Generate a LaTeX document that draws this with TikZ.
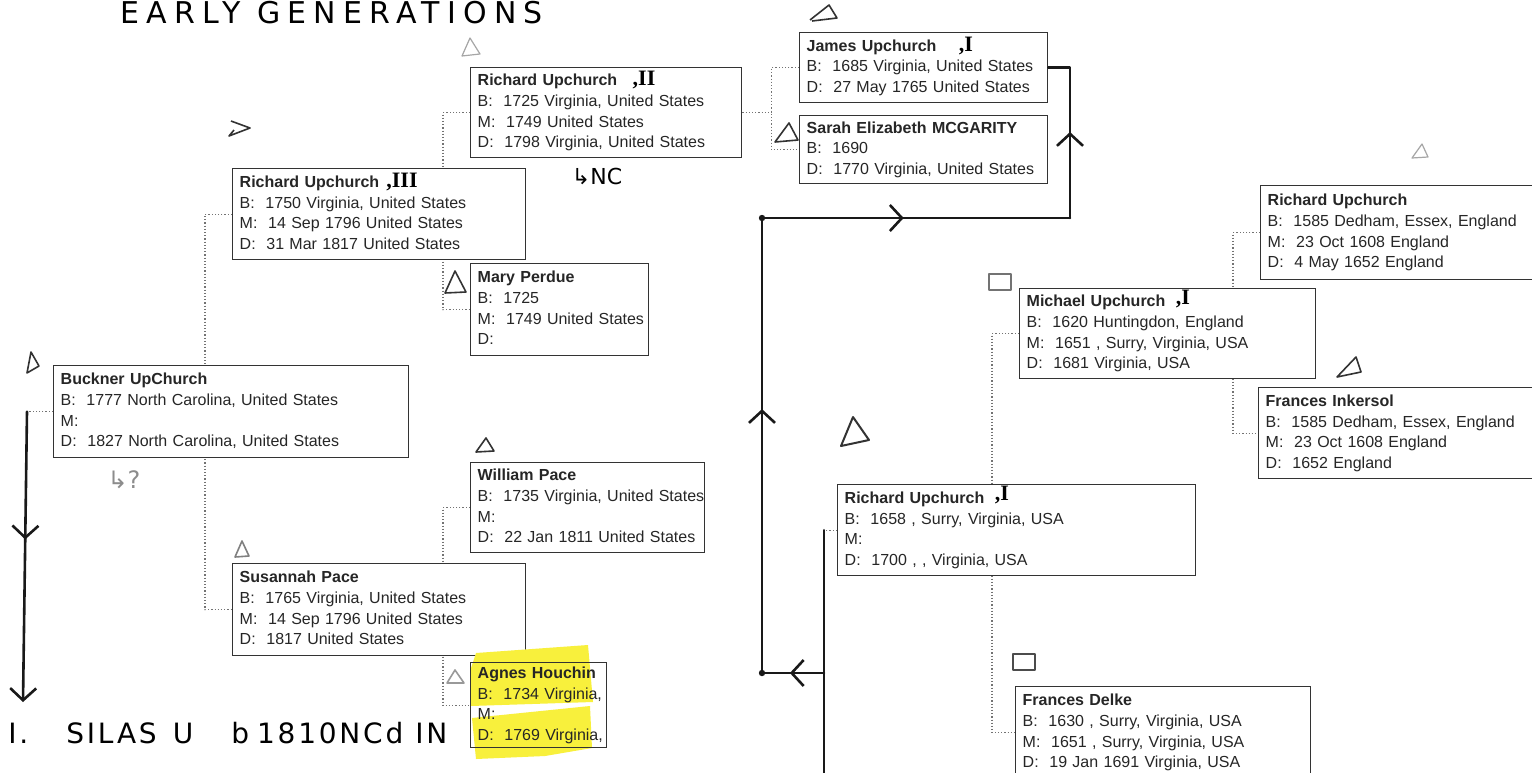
\documentclass[tikz,border=0pt]{standalone}
\usepackage{fontspec}
\setmainfont{Liberation Sans}
\newfontfamily\handfont{DejaVu Sans}
\newfontfamily\titlefont[LetterSpace=24]{DejaVu Sans}
\newfontfamily\notefont[LetterSpace=10]{DejaVu Sans}
\newfontfamily\romfont{Liberation Serif}
\usepackage{xcolor}
\usepackage{tikz}
\usetikzlibrary{positioning, arrows.meta, backgrounds, calc, decorations.markings}

\definecolor{hilite}{RGB}{248,240,60}

\newcommand{\pcard}[2]{\begin{tabular}{@{}l@{}}\textbf{#1}\\#2\end{tabular}}

\begin{document}
\begin{tikzpicture}[
    x=0.5pt, y=-0.5pt,
    person/.style 2 args={draw=black!80, fill=white, line width=0.7pt, anchor=north west,
                inner xsep=3.5pt, inner ysep=0pt, minimum width=#1*0.5pt,
                minimum height=#2*0.5pt, text width=#1*0.5pt-7pt, text=black!85,
                font=\fontsize{8}{10.3}\selectfont},
    link/.style={densely dotted, black!55, line width=0.6pt},
    hand/.style={line width=1.3pt, black!90, line cap=round, line join=round},
    midtip/.style={postaction={decorate, decoration={markings,
                mark=at position #1 with {\arrow{>}}}}},
    >={Straight Barb[length=6pt, width=13pt]},
    doodle/.style={line width=0.8pt, black!80, line join=round},
    faint/.style={doodle, black!35, line width=0.6pt},
    numeral/.style={inner sep=0pt, font=\romfont\fontsize{11}{11}\selectfont\bfseries},
    note/.style={inner sep=0pt, font=\handfont\fontsize{11}{11}\selectfont},
]
\useasboundingbox (0,0) rectangle (1532,772);

% --- Title ---
\node[inner sep=0pt, anchor=base west, font=\titlefont\fontsize{15}{15}\selectfont] (title)
    at (120,23) {EARLY GENERATIONS};

% --- Generation 1 ---
\node[person={355}{92}] (buckner) at (53,365)
    {\pcard{Buckner UpChurch}{B:~ 1777 North Carolina, United States\\M:\\D:~ 1827 North Carolina, United States}};

% --- Generation 2 ---
\node[person={293}{91}] (rich3) at (232,168)
    {\pcard{Richard Upchurch}{B:~ 1750 Virginia, United States\\M:~ 14 Sep 1796 United States\\D:~ 31 Mar 1817 United States}};
\node[person={293}{92}] (susan) at (232,563)
    {\pcard{Susannah Pace}{B:~ 1765 Virginia, United States\\M:~ 14 Sep 1796 United States\\D:~ 1817 United States}};

% --- Generation 3 ---
\node[person={271}{90}] (rich2) at (470,67)
    {\pcard{Richard Upchurch}{B:~ 1725 Virginia, United States\\M:~ 1749 United States\\D:~ 1798 Virginia, United States}};
\node[person={178}{92}] (mary) at (470,263)
    {\pcard{Mary Perdue}{B:~ 1725\\M:~ 1749 United States\\D:}};
\node[person={234}{90}] (william) at (470,462)
    {\pcard{William Pace}{B:~ 1735 Virginia, United States\\M:\\D:~ 22 Jan 1811 United States}};
\fill[hilite] (471,668) -- (476,653) -- (588,645) -- (593,702) -- (471,706) -- cycle;
\fill[hilite] (472,718) -- (590,706) -- (592,748) -- (545,756) -- (476,759) -- cycle;
\node[person={136}{85}, fill=none] (agnes) at (470,662)
    {\pcard{Agnes Houchin}{B:~ 1734 Virginia,\\M:\\D:~ 1769 Virginia,}};

% --- Generation 4 ---
\node[person={248}{70}] (james) at (799,32)
    {\pcard{James Upchurch}{B:~ 1685 Virginia, United States\\D:~ 27 May 1765 United States}};
\node[person={248}{68}] (sarah) at (799,115)
    {\pcard{Sarah Elizabeth MCGARITY}{B:~ 1690\\D:~ 1770 Virginia, United States}};

% --- Right branch ---
\node[person={358}{91}] (rich1) at (837,484)
    {\pcard{Richard Upchurch}{B:~ 1658 , Surry, Virginia, USA\\M:\\D:~ 1700 , , Virginia, USA}};
\node[person={296}{90}] (michael) at (1019,288)
    {\pcard{Michael Upchurch}{B:~ 1620 Huntingdon, England\\M:~ 1651 , Surry, Virginia, USA\\D:~ 1681 Virginia, USA}};
\node[person={290}{94}] (rich0) at (1260,185)
    {\pcard{Richard Upchurch}{B:~ 1585 Dedham, Essex, England\\M:~ 23 Oct 1608 England\\D:~ 4 May 1652 England}};
\node[person={290}{91}] (inkersol) at (1258,387)
    {\pcard{Frances Inkersol}{B:~ 1585 Dedham, Essex, England\\M:~ 23 Oct 1608 England\\D:~ 1652 England}};
\node[person={295}{92}] (delke) at (1015,686)
    {\pcard{Frances Delke}{B:~ 1630 , Surry, Virginia, USA\\M:~ 1651 , Surry, Virginia, USA\\D:~ 19 Jan 1691 Virginia, USA}};

% --- Pen notes ---
\node[numeral] (num2) at (644,80) {,II};
\node[numeral] (num3) at (402,182) {,III};
\node[numeral] (numj) at (966,46) {,I};
\node[numeral] (numm) at (1183,299) {,I};
\node[numeral] (numr) at (1002,495) {,I};
\node[note] (ncnote) at (597,176) {↳NC};
\node[note, black!45, font=\handfont\fontsize{12}{12}\selectfont] (qnote) at (124,480) {↳?};
\node[inner sep=0pt, anchor=west, font=\notefont\fontsize{14}{14}\selectfont] (silasnote) at (8,733)
    {I.\hspace{19pt}SILAS\hspace{8pt}U\hspace{19pt}b\hspace{4pt}1810NCd\hspace{6pt}IN};

% --- Hand drawn lines ---
\coordinate (bkstub) at ([xshift=-13pt]buckner.west);
\coordinate (silas) at (23,702);
\coordinate (rstub) at ([xshift=-6.5pt]rich1.west);
\coordinate (rend) at (824,790);
\coordinate (rjoin) at (824,673);
\coordinate (lowturn) at (762,673);
\coordinate (upturn) at (762,218);
\coordinate (farturn) at (1070,218);
\coordinate (jturn) at (james.east -| farturn);

\draw[hand, ->, midtip=0.44] (bkstub) -- (silas);
\draw[hand] (rstub) -- (rend);
\draw[hand, midtip=0.55] (rjoin) -- (lowturn);
\draw[hand, midtip=0.58] (lowturn) -- (upturn);
\draw[hand, midtip=0.46] (upturn) -- (farturn);
\draw[hand, midtip=0.5] (farturn) -- (jturn) -- (james.east);
\fill[black!90] (lowturn) circle (1.6pt);
\fill[black!90] (upturn) circle (1.6pt);

% --- Pencil marks ---
\draw[faint] (462,56) -- (470,38) -- (480,54) -- cycle;
\draw[doodle] (231,121) -- (250,128) -- (229,136) -- (234,130);
\draw[doodle] (810,20) -- (829,5) -- (837,18) -- (812,21);
\draw[doodle] (27,373) -- (31,352) -- (39,366) -- cycle;
\draw[doodle] (445,293) -- (455,271) -- (466,292) -- cycle;
\draw[doodle] (775,142) -- (789,123) -- (798,140) -- cycle;
\draw[doodle] (476,452) -- (486,438) -- (494,451) -- cycle;
\draw[doodle, black!50] (235,557) -- (242,541) -- (249,556) -- cycle;
\draw[doodle, black!40] (447,683) -- (455,670) -- (464,683) -- cycle;
\draw[doodle, line width=1pt] (841,446) -- (853,417) -- (869,440) -- cycle;
\draw[doodle] (1337,377) -- (1356,357) -- (1361,372) -- cycle;
\draw[faint] (1412,158) -- (1422,144) -- (1428,157) -- cycle;
\draw[doodle, black!55] (989,274) rectangle (1011,290);
\draw[doodle, black!70] (1013,654) rectangle (1035,670);

% --- Chart links ---
\begin{scope}[on background layer]
    \fill[white] (0,0) rectangle (1532,772);
    \draw[link] (rich3.west) -- ++(-27,0) |- (susan.west);
    \draw[link] (buckner.west) -- (bkstub);
    \draw[link] (rich2.west) -- ++(-27,0) |- (mary.west);
    \draw[link] (william.west) -- ++(-27,0) |- (agnes.west);
    \draw[link] (rich2.east) -- ++(29,0) coordinate (jsplit);
    \draw[link] (james.west) -| (jsplit) |- (sarah.west);
    \draw[link] (michael.west) -- ++(-27,0) |- (delke.west);
    \draw[link] (rich0.west) -- ++(-27,0) |- (inkersol.west);
    \draw[link] (rich1.west) -- (rstub);
\end{scope}

\end{tikzpicture}
\end{document}
